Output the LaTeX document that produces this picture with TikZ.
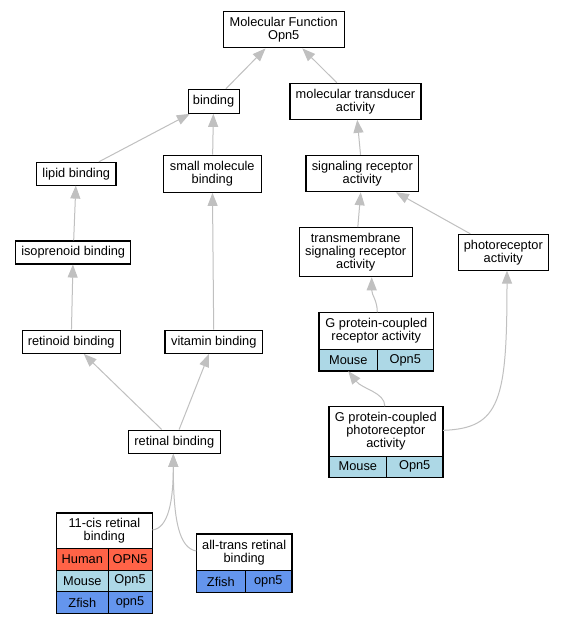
\documentclass[tikz,border=0pt]{standalone}
\usepackage{fontspec}
\setmainfont{Liberation Sans}
\usetikzlibrary{arrows.meta}
\definecolor{edgegray}{HTML}{C0C0C0}
\definecolor{human}{HTML}{FF6347}
\definecolor{mouse}{HTML}{ADD8E6}
\definecolor{zfish}{HTML}{6495ED}
\begin{document}
\begin{tikzpicture}[x=1pt,y=1pt,
  font=\fontsize{12.8}{13}\selectfont,
  box/.style={draw=black, line width=1.1pt, align=center, inner sep=0pt, fill=white},
  cell/.style={draw=black, line width=0.9pt, inner sep=0pt},
  sz/.style 2 args={minimum width=#1pt, minimum height=#2pt},
  edge/.style={draw=edgegray, line width=1pt, -{Triangle[length=13pt,width=10pt]}},
  tableborder/.style={draw=black, line width=1.1pt}]
\fill[white] (0,0) rectangle (563,-624);
\useasboundingbox (0,0) rectangle (563,-624);

% plain boxes
\node[box, sz={121}{36}] (mf) at (283.7,-29.9) {Molecular Function\\Opn5};
\node[box, sz={51}{24}] (binding) at (213.6,-101.3) {binding};
\node[box, sz={131}{36}] (mta) at (355.5,-101.3) {molecular transducer\\activity};
\node[box, sz={79.3}{22.7}] (lipid) at (76.3,-173.7) {lipid binding};
\node[box, sz={98}{37.3}] (smallmol) at (212.3,-173.7) {small molecule\\binding};
\node[box, sz={112.7}{36.4}] (signal) at (362.3,-173.5) {signaling receptor\\activity};
\node[box, sz={115}{23}] (isoprenoid) at (73.2,-252.5) {isoprenoid binding};
\node[box, sz={112.7}{49}] (transmem) at (355.7,-252.2) {transmembrane\\signaling receptor\\activity};
\node[box, sz={90}{35.7}] (photo) at (503.3,-252.2) {photoreceptor\\activity};
\node[box, sz={97.7}{23.3}] (retinoid) at (71.2,-341.7) {retinoid binding};
\node[box, sz={97.7}{23.3}] (vitamin) at (213.8,-341.7) {vitamin binding};
\node[box, sz={92}{23.3}] (retinal) at (174.3,-441.7) {retinal binding};

% G protein-coupled receptor activity
\node[box, line width=0.9pt, sz={114}{36.6}] (gpcrH) at (376.3,-331) {G protein-coupled\\receptor activity};
\node[cell, fill=mouse, sz={58}{21.4}] (gpcrM) at (348.3,-360) {Mouse};
\node[cell, fill=mouse, sz={56}{21.4}] (gpcrO) at (405.3,-360) {Opn5};
\draw[tableborder] (gpcrH.north west) rectangle (gpcrO.south east);

% G protein-coupled photoreceptor activity
\node[box, line width=0.9pt, sz={113.7}{49.3}] (gpprH) at (385.85,-431.35) {G protein-coupled\\photoreceptor\\activity};
\node[cell, fill=mouse, sz={57.7}{21.3}] (gpprM) at (357.85,-466.65) {Mouse};
\node[cell, fill=mouse, sz={56}{21.3}] (gpprO) at (414.7,-466.65) {Opn5};
\draw[tableborder] (gpprH.north west) rectangle (gpprO.south east);

% 11-cis retinal binding
\node[box, line width=0.9pt, sz={95.3}{35.4}] (cisH) at (104.35,-531) {11-cis retinal\\binding};
\node[cell, fill=human, sz={51.3}{21.3}] (cisHs) at (82.35,-559.35) {Human};
\node[cell, fill=human, sz={44}{21.3}] (cisHg) at (130,-559.35) {OPN5};
\node[cell, fill=mouse, sz={51.3}{21.7}] (cisMs) at (82.35,-580.85) {Mouse};
\node[cell, fill=mouse, sz={44}{21.7}] (cisMg) at (130,-580.85) {Opn5};
\node[cell, fill=zfish, sz={51.3}{21.6}] (cisZs) at (82.35,-602.5) {Zfish};
\node[cell, fill=zfish, sz={44}{21.6}] (cisZg) at (130,-602.5) {opn5};
\draw[tableborder] (cisH.north west) rectangle (cisZg.south east);

% all-trans retinal binding
\node[box, line width=0.9pt, sz={95}{36.4}] (transH) at (244.2,-552.5) {all-trans retinal\\binding};
\node[cell, fill=zfish, sz={48.3}{21.6}] (transZs) at (220.85,-581.5) {Zfish};
\node[cell, fill=zfish, sz={46.7}{21.6}] (transZg) at (268.35,-581.5) {opn5};
\draw[tableborder] (transH.north west) rectangle (transZg.south east);

% straight edges
\draw[edge] (binding) -- (mf);
\draw[edge] (mta) -- (mf);
\draw[edge] (lipid) -- (binding);
\draw[edge] (smallmol) -- (binding);
\draw[edge] (signal) -- (mta);
\draw[edge] (isoprenoid) -- (lipid);
\draw[edge] (retinoid) -- (isoprenoid);
\draw[edge] (vitamin) -- (smallmol);
\draw[edge] (transmem) -- (signal);
\draw[edge] (photo) -- (signal);
\draw[edge] (retinal) -- (retinoid);
\draw[edge] (retinal) -- (vitamin);

% curved edges
\draw[edge] ([xshift=1pt]gpcrH.north) .. controls +(0,12) and +(0,-18) .. ([xshift=16pt]transmem.south);
\draw[edge] ([xshift=-1pt]gpprH.north) .. controls +(0,14) and +(14,-18) .. (gpcrM.south);
\draw[edge] ([yshift=1pt]gpprH.east) .. controls +(57,2) and +(0,-130) .. ([xshift=3.7pt]photo.south);
\draw[edge] ([yshift=1pt]cisH.east) .. controls +(16,2) and +(0,-47) .. ([xshift=-1pt]retinal.south);
\draw[edge] ([yshift=1.5pt]transH.west) .. controls +(-17,3) and +(0,-67) .. ([xshift=-1pt]retinal.south);
\end{tikzpicture}
\end{document}
